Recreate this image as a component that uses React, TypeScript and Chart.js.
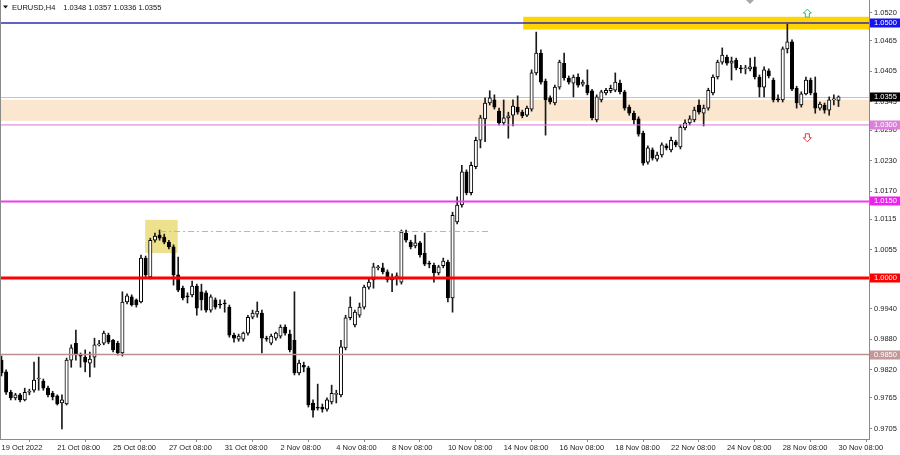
import React, { useEffect, useRef } from "react";
import { Chart, registerables } from "chart.js";

Chart.register(...registerables);

// ---------------- data ----------------
const SYMBOL_TITLE = "EURUSD,H4";
const LAST_OHLC = ["1.0348", "1.0357", "1.0336", "1.0355"];

const OPEN = [
  0.9839, 0.9816, 0.9776, 0.9765, 0.9771, 0.9761, 0.9776, 0.9780, 0.9802, 0.9798,
  0.9784, 0.9774, 0.9769, 0.9755, 0.9753, 0.9839, 0.9872, 0.9849, 0.9845, 0.9833,
  0.9845, 0.9869, 0.9872, 0.9888, 0.9878, 0.9872, 0.9853, 0.9953, 0.9963, 0.9957,
  0.9953, 1.0039, 1.0002, 1.0074, 1.0084, 1.0080, 1.0070, 1.0061, 1.0006, 0.9980,
  0.9965, 0.9967, 0.9984, 0.9973, 0.9971, 0.9937, 0.9957, 0.9949, 0.9951, 0.9943,
  0.9888, 0.9880, 0.9880, 0.9892, 0.9923, 0.9929, 0.9931, 0.9882, 0.9872, 0.9882,
  0.9886, 0.9904, 0.9890, 0.9878, 0.9814, 0.9829, 0.9824, 0.9755, 0.9747, 0.9747,
  0.9743, 0.9757, 0.9772, 0.9771, 0.9863, 0.9922, 0.9908, 0.9927, 0.9943, 0.9982,
  0.9996, 1.0020, 1.0020, 1.0012, 0.9996, 1.0000, 0.9992, 1.0088, 1.0070, 1.0063,
  1.0069, 1.0049, 1.0029, 1.0025, 1.0010, 1.0024, 1.0031, 0.9961, 1.0110, 1.0143,
  1.0208, 1.0167, 1.0218, 1.0270, 1.0312, 1.0343, 1.0349, 1.0327, 1.0304, 1.0314,
  1.0319, 1.0335, 1.0325, 1.0319, 1.0331, 1.0402, 1.0441, 1.0386, 1.0353, 1.0343,
  1.0374, 1.0421, 1.0392, 1.0382, 1.0394, 1.0380, 1.0378, 1.0367, 1.0310, 1.0349,
  1.0363, 1.0367, 1.0368, 1.0382, 1.0365, 1.0335, 1.0323, 1.0312, 1.0284, 1.0227,
  1.0251, 1.0233, 1.0241, 1.0259, 1.0251, 1.0267, 1.0257, 1.0294, 1.0304, 1.0310,
  1.0339, 1.0323, 1.0333, 1.0363, 1.0394, 1.0423, 1.0433, 1.0421, 1.0427, 1.0412,
  1.0410, 1.0410, 1.0414, 1.0394, 1.0374, 1.0406, 1.0388, 1.0351, 1.0349, 1.0449,
  1.0463, 1.0372, 1.0339, 1.0361, 1.0388, 1.0363, 1.0333, 1.0339, 1.0329, 1.0349,
  1.0348,
];

const HIGH = [
  0.9847, 0.9820, 0.9780, 0.9774, 0.9774, 0.9784, 0.9782, 0.9835, 0.9845, 0.9802,
  0.9788, 0.9778, 0.9771, 0.9771, 0.9843, 0.9869, 0.9898, 0.9853, 0.9859, 0.9855,
  0.9882, 0.9878, 0.9896, 0.9892, 0.9880, 0.9876, 0.9973, 0.9969, 0.9967, 0.9959,
  1.0045, 1.0043, 1.0078, 1.0088, 1.0094, 1.0086, 1.0074, 1.0065, 1.0041, 0.9984,
  0.9971, 0.9994, 0.9988, 0.9988, 0.9975, 0.9967, 0.9961, 0.9957, 0.9957, 0.9947,
  0.9892, 0.9890, 0.9894, 0.9927, 0.9937, 0.9953, 0.9937, 0.9886, 0.9890, 0.9894,
  0.9908, 0.9908, 0.9898, 0.9973, 0.9839, 0.9835, 0.9827, 0.9761, 0.9792, 0.9753,
  0.9765, 0.9790, 0.9780, 0.9878, 0.9927, 0.9963, 0.9937, 0.9951, 0.9986, 1.0000,
  1.0029, 1.0025, 1.0029, 1.0016, 1.0008, 1.0010, 1.0094, 1.0094, 1.0074, 1.0084,
  1.0072, 1.0088, 1.0033, 1.0029, 1.0025, 1.0039, 1.0035, 1.0129, 1.0159, 1.0221,
  1.0212, 1.0227, 1.0276, 1.0319, 1.0353, 1.0367, 1.0359, 1.0333, 1.0349, 1.0325,
  1.0349, 1.0357, 1.0329, 1.0337, 1.0408, 1.0482, 1.0447, 1.0390, 1.0357, 1.0378,
  1.0427, 1.0441, 1.0396, 1.0398, 1.0400, 1.0388, 1.0408, 1.0370, 1.0359, 1.0368,
  1.0372, 1.0378, 1.0402, 1.0388, 1.0368, 1.0339, 1.0327, 1.0316, 1.0288, 1.0259,
  1.0255, 1.0247, 1.0265, 1.0263, 1.0276, 1.0270, 1.0300, 1.0310, 1.0318, 1.0335,
  1.0349, 1.0339, 1.0372, 1.0398, 1.0427, 1.0451, 1.0437, 1.0433, 1.0431, 1.0417,
  1.0417, 1.0431, 1.0433, 1.0398, 1.0414, 1.0410, 1.0392, 1.0359, 1.0453, 1.0498,
  1.0467, 1.0376, 1.0365, 1.0394, 1.0392, 1.0394, 1.0345, 1.0343, 1.0355, 1.0359,
  1.0357,
];

const LOW = [
  0.9808, 0.9772, 0.9761, 0.9761, 0.9757, 0.9759, 0.9771, 0.9776, 0.9780, 0.9780,
  0.9767, 0.9761, 0.9751, 0.9704, 0.9751, 0.9825, 0.9839, 0.9825, 0.9816, 0.9806,
  0.9825, 0.9867, 0.9869, 0.9871, 0.9855, 0.9849, 0.9847, 0.9949, 0.9945, 0.9943,
  0.9951, 1.0002, 0.9998, 1.0070, 1.0074, 1.0067, 1.0057, 0.9986, 0.9973, 0.9957,
  0.9951, 0.9963, 0.9927, 0.9937, 0.9933, 0.9933, 0.9939, 0.9941, 0.9933, 0.9884,
  0.9874, 0.9876, 0.9876, 0.9888, 0.9920, 0.9923, 0.9853, 0.9876, 0.9869, 0.9878,
  0.9882, 0.9888, 0.9855, 0.9810, 0.9810, 0.9816, 0.9747, 0.9727, 0.9741, 0.9737,
  0.9739, 0.9753, 0.9755, 0.9767, 0.9859, 0.9918, 0.9904, 0.9923, 0.9939, 0.9978,
  0.9980, 1.0016, 1.0008, 0.9992, 0.9973, 0.9986, 0.9988, 1.0070, 1.0057, 1.0059,
  1.0041, 1.0024, 1.0020, 0.9992, 1.0006, 1.0020, 0.9953, 0.9933, 1.0106, 1.0139,
  1.0163, 1.0163, 1.0214, 1.0255, 1.0267, 1.0339, 1.0331, 1.0300, 1.0300, 1.0274,
  1.0298, 1.0321, 1.0314, 1.0316, 1.0327, 1.0398, 1.0380, 1.0280, 1.0341, 1.0339,
  1.0370, 1.0388, 1.0380, 1.0355, 1.0374, 1.0376, 1.0359, 1.0310, 1.0306, 1.0345,
  1.0359, 1.0363, 1.0365, 1.0361, 1.0329, 1.0319, 1.0302, 1.0278, 1.0221, 1.0223,
  1.0231, 1.0229, 1.0237, 1.0251, 1.0247, 1.0257, 1.0253, 1.0290, 1.0300, 1.0306,
  1.0321, 1.0298, 1.0329, 1.0359, 1.0390, 1.0419, 1.0417, 1.0388, 1.0408, 1.0402,
  1.0400, 1.0406, 1.0390, 1.0355, 1.0355, 1.0392, 1.0345, 1.0345, 1.0345, 1.0441,
  1.0367, 1.0333, 1.0335, 1.0359, 1.0359, 1.0323, 1.0329, 1.0323, 1.0319, 1.0339,
  1.0336,
];

const CLOSE = [
  0.9814, 0.9776, 0.9765, 0.9771, 0.9761, 0.9776, 0.9778, 0.9800, 0.9804, 0.9784,
  0.9771, 0.9767, 0.9753, 0.9761, 0.9839, 0.9863, 0.9849, 0.9847, 0.9835, 0.9841,
  0.9869, 0.9871, 0.9892, 0.9874, 0.9859, 0.9853, 0.9953, 0.9965, 0.9947, 0.9947,
  1.0039, 1.0006, 1.0074, 1.0082, 1.0078, 1.0070, 1.0061, 1.0006, 0.9976, 0.9961,
  0.9963, 0.9984, 0.9941, 0.9957, 0.9937, 0.9963, 0.9943, 0.9947, 0.9949, 0.9888,
  0.9882, 0.9886, 0.9892, 0.9923, 0.9931, 0.9935, 0.9882, 0.9880, 0.9886, 0.9892,
  0.9904, 0.9892, 0.9859, 0.9814, 0.9833, 0.9825, 0.9751, 0.9741, 0.9745, 0.9743,
  0.9761, 0.9774, 0.9774, 0.9865, 0.9922, 0.9943, 0.9933, 0.9943, 0.9982, 0.9992,
  1.0022, 1.0022, 1.0012, 0.9996, 1.0002, 1.0004, 1.0090, 1.0074, 1.0061, 1.0069,
  1.0045, 1.0027, 1.0027, 1.0010, 1.0022, 1.0033, 0.9961, 1.0123, 1.0143, 1.0208,
  1.0167, 1.0221, 1.0270, 1.0314, 1.0343, 1.0353, 1.0335, 1.0304, 1.0314, 1.0318,
  1.0337, 1.0325, 1.0318, 1.0333, 1.0402, 1.0441, 1.0384, 1.0349, 1.0345, 1.0374,
  1.0423, 1.0392, 1.0384, 1.0394, 1.0378, 1.0384, 1.0363, 1.0314, 1.0355, 1.0365,
  1.0368, 1.0372, 1.0384, 1.0365, 1.0333, 1.0323, 1.0310, 1.0282, 1.0225, 1.0255,
  1.0235, 1.0241, 1.0261, 1.0255, 1.0270, 1.0261, 1.0296, 1.0304, 1.0312, 1.0329,
  1.0325, 1.0333, 1.0368, 1.0394, 1.0423, 1.0437, 1.0421, 1.0425, 1.0412, 1.0410,
  1.0412, 1.0414, 1.0394, 1.0374, 1.0408, 1.0396, 1.0349, 1.0349, 1.0449, 1.0463,
  1.0370, 1.0343, 1.0361, 1.0388, 1.0363, 1.0333, 1.0341, 1.0329, 1.0349, 1.0351,
  1.0355,
];

const TIME_TICK_BARS = [0, 12, 24, 36, 48, 60, 72, 84, 96, 108, 120, 132, 144, 156, 168, 180];
const TIME_TICK_LABELS = [
  "19 Oct 2022", "21 Oct 08:00", "25 Oct 08:00", "27 Oct 08:00", "31 Oct 08:00",
  "2 Nov 08:00", "4 Nov 08:00", "8 Nov 08:00", "10 Nov 08:00", "14 Nov 08:00",
  "16 Nov 08:00", "18 Nov 08:00", "22 Nov 08:00", "24 Nov 08:00", "28 Nov 08:00",
  "30 Nov 08:00",
];
const PRICE_TICKS = [
  1.0520, 1.0465, 1.0405, 1.0345, 1.0290, 1.0230, 1.0170, 1.0115,
  1.0055, 1.0000, 0.9940, 0.9880, 0.9820, 0.9765, 0.9705,
];
const VISIBLE_BARS = [-0.32, 186.56];
const PRICE_RANGE = [0.96844, 1.05449];

const LEVEL_PRICES = [1.05, 1.03, 1.015, 1.0, 0.985];
const LEVEL_LABELS = ["1.0500", "1.0300", "1.0150", "1.0000", "0.9850"];
const CURRENT_PRICE = 1.0355;
const CURRENT_LABEL = "1.0355";
const SUPPORT_ZONE = [1.0308, 1.0349];
const RESISTANCE_ZONE = [1.0487, 1.0512];
const RESISTANCE_FROM_BAR = 112.2;
const PEAK_BOX_BARS = [30.9, 37.9];
const PEAK_BOX_PRICES = [1.0049, 1.0114];
const DASHED_LEVEL = 1.0092;
const DASHED_BARS = [34.1, 105.1];
const ARROW_BAR = 173.3;
const UP_ARROW_TIP = 1.0527;
const DOWN_ARROW_TIP = 1.0267;

// ---------------- styles ----------------
const FONT_FAMILY = "'Liberation Sans', Arial, sans-serif";
const FONT_SIZE = 7.5;
const LEVEL_STYLES = [
  { line: "#2c2cb4", box: "#1414ee", width: 1.5 },
  { line: "#dc74dc", box: "#dc80dc", width: 1 },
  { line: "#f03cf0", box: "#ee22ee", width: 2 },
  { line: "#ff0000", box: "#ff0000", width: 3 },
  { line: "#bc8f8f", box: "#c29898", width: 1.5 },
];

function drawArrow(ctx: CanvasRenderingContext2D, cx: number, tip: number, dir: number, color: string) {
  const s = dir; // -1 up (tip on top), +1 down (tip at bottom)
  ctx.beginPath();
  ctx.moveTo(cx, tip);
  ctx.lineTo(cx + 4, tip - s * 4);
  ctx.lineTo(cx + 2, tip - s * 4);
  ctx.lineTo(cx + 2, tip - s * 8);
  ctx.lineTo(cx - 2, tip - s * 8);
  ctx.lineTo(cx - 2, tip - s * 4);
  ctx.lineTo(cx - 4, tip - s * 4);
  ctx.closePath();
  ctx.fillStyle = "#ffffff";
  ctx.fill();
  ctx.strokeStyle = color;
  ctx.lineWidth = 1;
  ctx.stroke();
}

const overlayPlugin = {
  id: "mt4Overlay",
  beforeDatasetsDraw(chart: any) {
    const { ctx, chartArea: a, scales } = chart;
    const x = scales.x;
    const y = scales.y;
    ctx.save();
    ctx.beginPath();
    ctx.rect(a.left, a.top, a.right - a.left, a.bottom - a.top);
    ctx.clip();
    const sTop = y.getPixelForValue(SUPPORT_ZONE[1]);
    const sBot = y.getPixelForValue(SUPPORT_ZONE[0]);
    ctx.fillStyle = "#fbe7d0";
    ctx.fillRect(a.left, sTop, a.right - a.left, sBot - sTop);
    const rTop = y.getPixelForValue(RESISTANCE_ZONE[1]);
    const rBot = y.getPixelForValue(RESISTANCE_ZONE[0]);
    const rx = x.getPixelForValue(RESISTANCE_FROM_BAR);
    ctx.fillStyle = "#ffd400";
    ctx.fillRect(rx, rTop, a.right - rx, rBot - rTop);
    const px0 = x.getPixelForValue(PEAK_BOX_BARS[0]);
    const px1 = x.getPixelForValue(PEAK_BOX_BARS[1]);
    const py0 = y.getPixelForValue(PEAK_BOX_PRICES[1]);
    const py1 = y.getPixelForValue(PEAK_BOX_PRICES[0]);
    ctx.fillStyle = "#eee18e";
    ctx.fillRect(px0, py0, px1 - px0, py1 - py0);
    const cy = Math.round(y.getPixelForValue(CURRENT_PRICE)) + 0.5;
    ctx.strokeStyle = "#c4c4c4";
    ctx.lineWidth = 1;
    ctx.beginPath();
    ctx.moveTo(a.left, cy);
    ctx.lineTo(a.right, cy);
    ctx.stroke();
    ctx.restore();
  },
  afterDatasetsDraw(chart: any) {
    const { ctx, chartArea: a, scales } = chart;
    const x = scales.x;
    const y = scales.y;
    ctx.save();
    ctx.beginPath();
    ctx.rect(a.left, a.top, a.right - a.left, a.bottom - a.top);
    ctx.clip();
    const dy = Math.round(y.getPixelForValue(DASHED_LEVEL)) + 0.5;
    ctx.strokeStyle = "#7fcfcf";
    ctx.lineWidth = 1;
    ctx.setLineDash([6, 3, 2, 3]);
    ctx.beginPath();
    ctx.moveTo(x.getPixelForValue(DASHED_BARS[0]), dy);
    ctx.lineTo(x.getPixelForValue(DASHED_BARS[1]), dy);
    ctx.stroke();
    ctx.setLineDash([]);
    LEVEL_PRICES.forEach((p, i) => {
      const st = LEVEL_STYLES[i];
      const ly = y.getPixelForValue(p);
      ctx.strokeStyle = st.line;
      ctx.lineWidth = st.width;
      ctx.beginPath();
      ctx.moveTo(a.left, ly);
      ctx.lineTo(a.right, ly);
      ctx.stroke();
    });
    const ax = x.getPixelForValue(ARROW_BAR);
    drawArrow(ctx, ax, y.getPixelForValue(UP_ARROW_TIP), -1, "#3cb371");
    drawArrow(ctx, ax, y.getPixelForValue(DOWN_ARROW_TIP), 1, "#e23a3a");
    ctx.restore();
  },
  afterDraw(chart: any) {
    const { ctx, chartArea: a, scales } = chart;
    const y = scales.y;
    ctx.save();
    ctx.font = `${FONT_SIZE}px ${FONT_FAMILY}`;
    ctx.textBaseline = "middle";
    ctx.textAlign = "left";
    const boxW = chart.width - a.right - 1;
    const drawBox = (price: number, label: string, bg: string) => {
      const py = y.getPixelForValue(price);
      ctx.fillStyle = bg;
      ctx.fillRect(a.right + 1, Math.round(py) - 4.5, boxW, 9);
      ctx.fillStyle = "#ffffff";
      ctx.fillText(label, a.right + 5, Math.round(py));
    };
    LEVEL_PRICES.forEach((p, i) => drawBox(p, LEVEL_LABELS[i], LEVEL_STYLES[i].box));
    drawBox(CURRENT_PRICE, CURRENT_LABEL, "#000000");
    ctx.strokeStyle = "#8a8a8a";
    ctx.lineWidth = 1;
    ctx.beginPath();
    ctx.moveTo(a.left + 0.5, a.top);
    ctx.lineTo(a.left + 0.5, a.bottom);
    ctx.stroke();
    ctx.fillStyle = "#111111";
    ctx.beginPath();
    ctx.moveTo(3, 5.5);
    ctx.lineTo(8, 5.5);
    ctx.lineTo(5.5, 8.5);
    ctx.closePath();
    ctx.fill();
    ctx.textBaseline = "alphabetic";
    ctx.fillText(SYMBOL_TITLE, 12, 10);
    const tw = ctx.measureText(SYMBOL_TITLE).width;
    ctx.fillText(LAST_OHLC.join(" "), 12 + tw + 8, 10);
    ctx.fillStyle = "#a8a8a8";
    ctx.beginPath();
    ctx.moveTo(746, 0);
    ctx.lineTo(754, 0);
    ctx.lineTo(750, 4);
    ctx.closePath();
    ctx.fill();
    ctx.restore();
  },
};

export default function App() {
  const canvasRef = useRef<HTMLCanvasElement | null>(null);

  useEffect(() => {
    const canvas = canvasRef.current;
    if (!canvas) return;
    const bodies = OPEN.map((o, i) => ({ x: i, y: [Math.min(o, CLOSE[i]), Math.max(o, CLOSE[i])] }));
    const wicks = OPEN.map((_, i) => ({ x: i, y: [LOW[i], HIGH[i]] }));
    const isUp = OPEN.map((o, i) => CLOSE[i] >= o);
    const font = { family: FONT_FAMILY, size: FONT_SIZE };

    const chart = new Chart(canvas, {
      type: "bar",
      data: {
        datasets: [
          {
            label: "body",
            data: bodies as any,
            backgroundColor: isUp.map((u) => (u ? "#ffffff" : "#000000")),
            borderColor: "#000000",
            borderWidth: 1,
            borderSkipped: false,
            barThickness: 3.4,
            minBarLength: 1,
            grouped: false,
            order: 0,
          } as any,
          {
            label: "wick",
            data: wicks as any,
            backgroundColor: "#1a1a1a",
            borderWidth: 0,
            barThickness: 1,
            grouped: false,
            order: 1,
          } as any,
        ],
      },
      options: {
        animation: false,
        responsive: true,
        maintainAspectRatio: false,
        events: [],
        layout: { padding: 0 },
        plugins: { legend: { display: false }, tooltip: { enabled: false } },
        scales: {
          x: {
            type: "linear",
            min: VISIBLE_BARS[0],
            max: VISIBLE_BARS[1],
            offset: false,
            grid: { display: true, drawOnChartArea: false, drawTicks: true, tickLength: 3, color: "#8a8a8a" },
            border: { display: true, color: "#8a8a8a" },
            ticks: {
              autoSkip: false,
              maxRotation: 0,
              minRotation: 0,
              align: "start",
              padding: 1,
              font,
              color: "#222222",
              callback: (_v: any, i: number) => TIME_TICK_LABELS[i],
            },
            afterBuildTicks: (s: any) => {
              s.ticks = TIME_TICK_BARS.map((v) => ({ value: v }));
            },
            afterFit: (s: any) => {
              s.height = 16;
              s.paddingLeft = 0;
              s.paddingRight = 0;
            },
          } as any,
          y: {
            type: "linear",
            position: "right",
            min: PRICE_RANGE[0],
            max: PRICE_RANGE[1],
            grid: { display: true, drawOnChartArea: false, drawTicks: true, tickLength: 3, color: "#8a8a8a" },
            border: { display: true, color: "#8a8a8a" },
            ticks: {
              autoSkip: false,
              padding: 2,
              font,
              color: "#222222",
              callback: (v: any) => Number(v).toFixed(4),
            },
            afterBuildTicks: (s: any) => {
              s.ticks = PRICE_TICKS.map((v) => ({ value: v }));
            },
            afterFit: (s: any) => {
              s.width = 31;
              s.paddingTop = 0;
              s.paddingBottom = 0;
            },
          } as any,
        },
      },
      plugins: [overlayPlugin as any],
    });
    return () => chart.destroy();
  }, []);

  return (
    <div style={{ position: "fixed", left: 0, top: 0, width: 900, height: 455, background: "#ffffff" }}>
      <canvas ref={canvasRef} />
    </div>
  );
}
